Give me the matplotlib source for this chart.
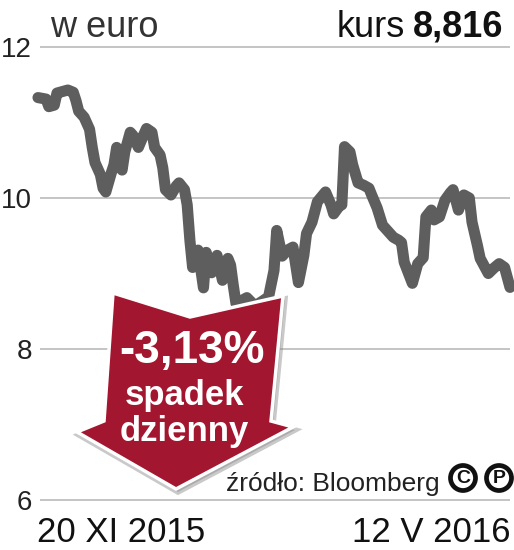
import matplotlib
matplotlib.use('Agg')
import matplotlib.pyplot as plt
import matplotlib.transforms as mtransforms
from matplotlib.patches import Polygon, Circle

# kurs w euro, dni od 20 XI 2015
dni = [0, 3, 4, 6, 7, 9, 11, 13, 14, 15, 17, 19, 20, 21, 23, 24, 25, 27, 28, 29,
       31, 32, 34, 35, 37, 39, 40, 42, 43, 45, 46, 47, 49, 51, 52, 54, 55, 56, 57, 59,
       61, 62, 64, 66, 68, 70, 71, 72, 73, 75, 77, 80, 83, 85, 87, 88, 90, 92, 94, 96,
       98, 99, 101, 103, 106, 108, 109, 111, 112, 113, 115, 116, 118, 120, 122, 123, 125, 127, 129, 131,
       133, 134, 135, 138, 140, 142, 143, 145, 146, 148, 150, 152, 153, 155, 157, 159, 160, 162, 163, 166,
       168, 170, 172, 174]
kurs = [11.33, 11.31, 11.21, 11.23, 11.39, 11.41, 11.43, 11.40, 11.29, 11.15, 11.07, 10.91, 10.67, 10.47, 10.31, 10.13, 10.08, 10.33, 10.44, 10.67,
        10.37, 10.61, 10.87, 10.83, 10.67, 10.84, 10.92, 10.87, 10.67, 10.57, 10.40, 10.11, 10.04, 10.16, 10.20, 10.11, 9.91, 9.44, 9.08, 9.31,
        8.81, 9.28, 9.01, 9.24, 8.91, 9.20, 9.11, 8.84, 8.60, 8.64, 8.68, 8.57, 8.64, 8.69, 9.04, 9.57, 9.23, 9.31, 9.35, 8.88,
        9.24, 9.53, 9.68, 9.95, 10.08, 9.91, 9.79, 9.89, 9.91, 10.68, 10.61, 10.44, 10.20, 10.17, 10.13, 10.04, 9.87, 9.64, 9.56, 9.48,
        9.44, 9.41, 9.15, 8.87, 9.13, 9.21, 9.75, 9.84, 9.71, 9.75, 9.97, 10.07, 10.11, 9.84, 10.04, 10.00, 9.68, 9.37, 9.20, 9.00,
        9.07, 9.13, 9.08, 8.816]

y_ticks = [6, 8, 10, 12]
y_labels = ['6', '8', '10', '12']
data_od = '20 XI 2015'
data_do = '12 V 2016'
ostatni = '8,816'
zmiana = '-3,13%'

font = 'Liberation Sans'

W, H = 514, 550
fig = plt.figure(figsize=(W / 100, H / 100), dpi=100)
# pixel coords, origin top-left
px = mtransforms.Affine2D().scale(1 / 100, -1 / 100).translate(0, H / 100) + fig.dpi_scale_trans

# axes: 12 -> y=47px, 6 -> y=500px, x from 40 to 510
per = (500 - 47) / 6
y0, y1 = 5.9, 12.1
top = 47 - (y1 - 12) * per
bot = 500 + (6 - y0) * per
ax = fig.add_axes([40 / W, (H - bot) / H, 470 / W, (bot - top) / H])
ax.set_ylim(y0, y1)
ax.set_xlim(0.74, 174)
for s in ax.spines.values():
    s.set_visible(False)
ax.set_xticks([])
ax.set_yticks(y_ticks)
ax.set_yticklabels(y_labels, fontfamily=font, fontsize=20, color='#222222')
ax.tick_params(axis='y', length=0, pad=5.8)
ax.yaxis.grid(True, color='#b4b4b4', linewidth=1.1)
ax.set_axisbelow(True)

ax.plot(dni, kurs, color='#5e5e5e', linewidth=8, solid_joinstyle='round',
        solid_capstyle='round', clip_on=False, zorder=3)

# header
fig.text(50, 37, 'w euro', transform=px, fontfamily=font, fontsize=26,
         color='#333333', va='baseline', ha='left')
t_val = fig.text(503, 37, ostatni, transform=px, fontfamily=font, fontsize=26,
                 fontweight='bold', color='#111111', va='baseline', ha='right')
r = fig.canvas.get_renderer()
bb = t_val.get_window_extent(r)
fig.text(bb.x0 - 8, H - 37, 'kurs', transform=None, fontfamily=font, fontsize=26,
         color='#111111', va='baseline', ha='right')

# dates
fig.text(37, 542, data_od, transform=px, fontfamily=font, fontsize=25,
         color='#111111', va='baseline', ha='left')
fig.text(511, 542, data_do, transform=px, fontfamily=font, fontsize=25,
         color='#111111', va='baseline', ha='right')

# arrow
arrow = [(113, 293), (190, 317), (283, 296), (271, 421), (293, 427),
         (176, 489), (77, 432), (104, 421)]
shadow = Polygon([(x + 2, y + 3) for x, y in arrow], closed=True, transform=px,
                 facecolor='#888888', edgecolor='#888888', linewidth=4, alpha=0.45)
fig.patches.append(shadow)
fig.patches.append(Polygon(arrow, closed=True, transform=px, facecolor='#a3162f',
                           edgecolor='white', linewidth=2.5, joinstyle='miter'))
fig.text(192, 363, zmiana, transform=px, fontfamily=font, fontsize=33,
         fontweight='bold', color='white', va='baseline', ha='center')
fig.text(184, 405, 'spadek', transform=px, fontfamily=font, fontsize=25,
         fontweight='bold', color='white', va='baseline', ha='center')
fig.text(184, 441, 'dzienny', transform=px, fontfamily=font, fontsize=25,
         fontweight='bold', color='white', va='baseline', ha='center')

# source
fig.text(440, 491, 'źródło: Bloomberg', transform=px, fontfamily=font, fontsize=19,
         color='#222222', va='baseline', ha='right')
for cx, ch in [(463, 'C'), (499, 'P')]:
    fig.patches.append(Circle((cx, 478), 12.5, transform=px, facecolor='white',
                              edgecolor='#111111', linewidth=3.4))
    fig.text(cx + 0.5, 478.5, ch, transform=px, fontfamily=font, fontsize=14,
             fontweight='bold', color='#111111', va='center', ha='center')

fig.savefig('out.png', dpi=100)
